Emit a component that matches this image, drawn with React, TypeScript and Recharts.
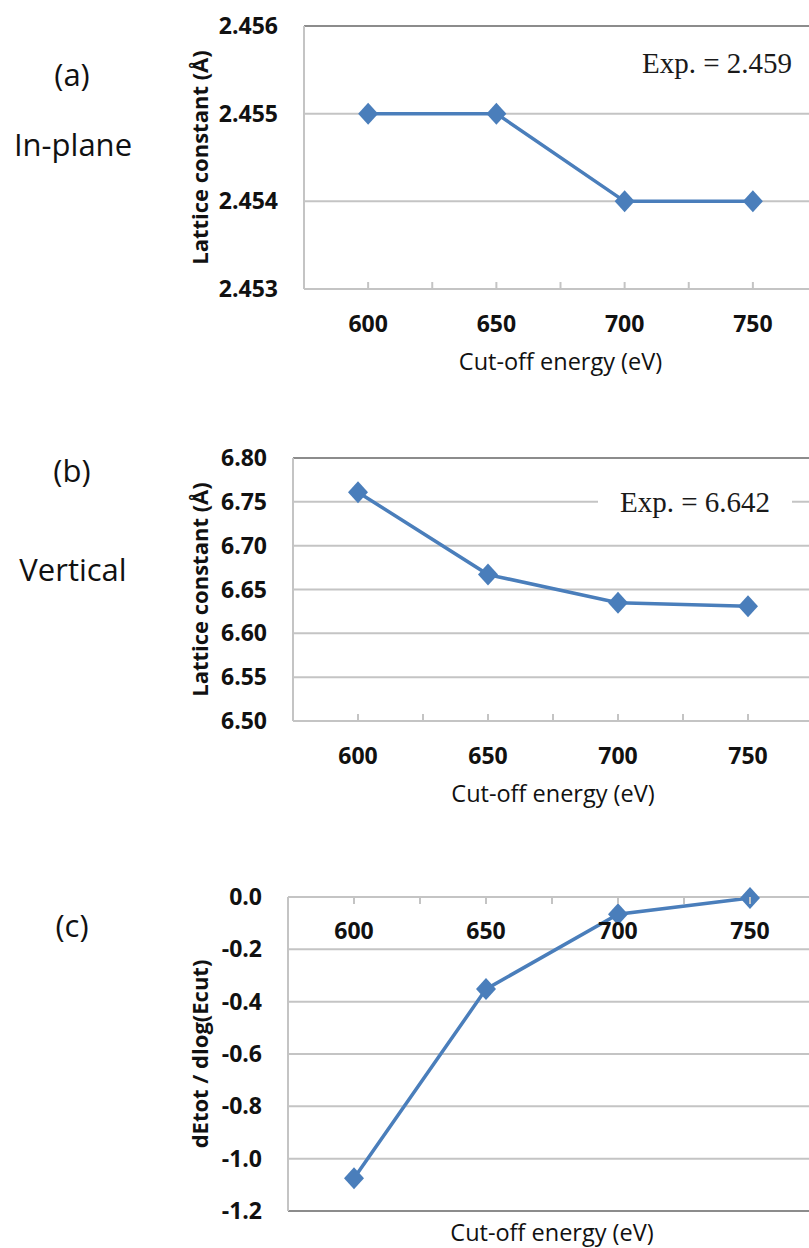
import React from 'react';
import { LineChart, Line, XAxis, YAxis, CartesianGrid, ReferenceLine, Label } from 'recharts';

// cut-off energies (eV) shared by all three panels
const energies = [600, 650, 700, 750];
const xTicks = [600, 625, 650, 675, 700, 725, 750];

// (a) in-plane lattice constant (Å)
const inPlane = [2.455, 2.455, 2.454, 2.454];
const inPlaneTicks = [2.453, 2.454, 2.455, 2.456];

// (b) vertical lattice constant (Å)
const vertical = [6.761, 6.667, 6.635, 6.631];
const verticalTicks = [6.5, 6.55, 6.6, 6.65, 6.7, 6.75, 6.8];

// (c) dEtot / dlog(Ecut)
const dEdlog = [-1.075, -0.352, -0.066, -0.004];
const dEdlogTicks = [-1.2, -1.0, -0.8, -0.6, -0.4, -0.2, 0];

const BLUE = '#4a7ebb';
const GRID = '#c4c4c4';
const FRAME = '#8c8c8c';
const FONT = '"Open Sans", "DejaVu Sans", sans-serif';
const SERIF = '"Liberation Serif", "DejaVu Serif", serif';

const toRows = (ys: number[]) => energies.map((e, i) => ({ energy: e, value: ys[i] }));

const Diamond = (props: any) => {
  const { cx, cy, index } = props;
  if (cx == null || cy == null) return <g key={`d-${index}`} />;
  return (
    <polygon
      key={`d-${index}`}
      points={`${cx},${cy - 11} ${cx + 10},${cy} ${cx},${cy + 11} ${cx - 10},${cy}`}
      fill={BLUE}
    />
  );
};

// inside tick marks at category centres and boundaries, labels below the axis line
const makeXTick = (inward: number, labelGap: number) => (props: any) => {
  const { x, y, payload } = props;
  const v = payload.value;
  return (
    <g>
      <line x1={x} x2={x} y1={y} y2={y + inward * 7} stroke={GRID} strokeWidth={2} />
      {energies.includes(v) && (
        <text x={x} y={y + labelGap + 8} textAnchor="middle" fontFamily={FONT} fontSize={23} fontWeight={700} fill="#111">
          {v}
        </text>
      )}
    </g>
  );
};

type PanelProps = {
  top: number;
  width: number;
  height: number;
  yAxisWidth: number;
  margin: { top: number; bottom: number };
  values: number[];
  domain: [number, number];
  yTicks: number[];
  decimals: number;
  yTitle: string;
  xTop?: boolean;
  titleY: number;
  tickGap: number;
};

const Panel = (p: PanelProps) => {
  const plotCx = p.yAxisWidth + (p.width - p.yAxisWidth) / 2;
  const plotH = p.height - p.margin.top - p.margin.bottom - (p.xTop ? 20 : 90);
  const plotTop = p.margin.top + (p.xTop ? 20 : 0);
  const yTitleCx = 199;
  const yTitleCy = plotTop + plotH / 2;
  return (
    <div style={{ position: 'absolute', left: 0, top: p.top }}>
      <LineChart
        width={p.width}
        height={p.height}
        data={toRows(p.values)}
        margin={{ top: p.margin.top, right: 0, bottom: p.margin.bottom, left: 0 }}
      >
        <CartesianGrid horizontal vertical={false} stroke={GRID} strokeWidth={2} />
        <XAxis
          dataKey="energy"
          type="number"
          domain={[575, 775]}
          ticks={xTicks}
          interval={0}
          orientation={p.xTop ? 'top' : 'bottom'}
          height={p.xTop ? 20 : 90}
          tickLine={false}
          tickSize={0}
          tickMargin={0}
          axisLine={{ stroke: GRID, strokeWidth: 2 }}
          tick={makeXTick(p.xTop ? 1 : -1, p.tickGap)}
        >
          <Label
            content={() => (
              <text x={plotCx} y={p.titleY + 8} textAnchor="middle" fontFamily={FONT} fontSize={23.5} fill="#111">
                Cut-off energy (eV)
              </text>
            )}
          />
        </XAxis>
        <YAxis
          type="number"
          domain={p.domain}
          ticks={p.yTicks}
          interval={0}
          width={p.yAxisWidth}
          tickLine={false}
          tickSize={0}
          tickMargin={26}
          tickFormatter={(v: number) => v.toFixed(p.decimals)}
          axisLine={{ stroke: GRID, strokeWidth: 2 }}
          tick={{ fill: '#111', fontSize: 23, fontWeight: 700, fontFamily: FONT }}
        >
          <Label
            content={() => (
              <text
                x={yTitleCx}
                y={yTitleCy}
                transform={`rotate(-90 ${yTitleCx} ${yTitleCy})`}
                textAnchor="middle"
                dominantBaseline="central"
                fontFamily={FONT}
                fontSize={22}
                fontWeight={700}
                fill="#111"
              >
                {p.yTitle}
              </text>
            )}
          />
        </YAxis>
        <ReferenceLine y={p.xTop ? p.domain[0] : p.domain[1]} stroke={FRAME} strokeWidth={2} />
        <Line
          dataKey="value"
          type="linear"
          stroke={BLUE}
          strokeWidth={3.5}
          dot={Diamond}
          activeDot={false}
          isAnimationActive={false}
        />
      </LineChart>
    </div>
  );
};

const sideLabel = { fontFamily: FONT, fontSize: 31, fill: '#111', textAnchor: 'middle' as const };

export default function App() {
  return (
    <div
      style={{
        position: 'absolute',
        left: 0,
        top: 0,
        width: 809,
        height: 1248,
        overflow: 'hidden',
        background: '#fff',
      }}
    >
      <Panel
        top={6}
        width={817}
        height={373}
        yAxisWidth={304}
        margin={{ top: 20, bottom: 0 }}
        values={inPlane}
        domain={[2.453, 2.456]}
        yTicks={inPlaneTicks}
        decimals={3}
        yTitle="Lattice constant  (Å)"
        titleY={356}
        tickGap={35}
      />
      <Panel
        top={438}
        width={813}
        height={373}
        yAxisWidth={293}
        margin={{ top: 20, bottom: 0 }}
        values={vertical}
        domain={[6.5, 6.8]}
        yTicks={verticalTicks}
        decimals={2}
        yTitle="Lattice constant  (Å)"
        titleY={356}
        tickGap={35}
      />
      <Panel
        top={877}
        width={816}
        height={384}
        yAxisWidth={288}
        margin={{ top: 0, bottom: 50 }}
        values={dEdlog}
        domain={[-1.2, 0]}
        yTicks={dEdlogTicks}
        decimals={1}
        yTitle="dEtot / dlog(Ecut)"
        xTop
        titleY={356}
        tickGap={34}
      />
      <svg
        width={809}
        height={1248}
        style={{ position: 'absolute', left: 0, top: 0, pointerEvents: 'none' }}
      >
        <text x={72} y={86} {...sideLabel}>(a)</text>
        <text x={73} y={156} {...sideLabel}>In-plane</text>
        <text x={72} y={482} {...sideLabel}>(b)</text>
        <text x={73} y={581} {...sideLabel}>Vertical</text>
        <text x={72} y={937} {...sideLabel}>(c)</text>

        <text x={642} y={73} fontFamily={SERIF} fontSize={29} fill="#1a1a1a">Exp. = 2.459</text>
        <rect x={598} y={490} width={194} height={24} fill="#fff" />
        <text x={620} y={512} fontFamily={SERIF} fontSize={29} fill="#1a1a1a">Exp. = 6.642</text>
      </svg>
    </div>
  );
}
